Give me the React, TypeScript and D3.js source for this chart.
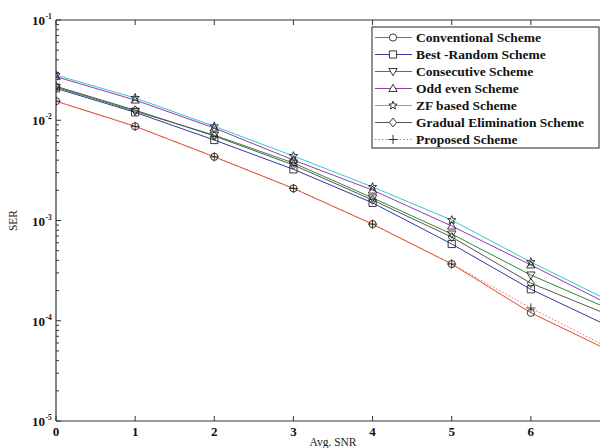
import React from "react";
import * as d3 from "d3";

const snr = [0, 1, 2, 3, 4, 5, 6, 7];
const conventional = [0.0155, 0.0087, 0.00432, 0.00209, 0.00092, 0.000368, 0.00012, 0.00005];
const bestRandom = [0.0208, 0.012, 0.00635, 0.00324, 0.0015, 0.000583, 0.000206, 0.000087];
const consecutive = [0.0214, 0.0123, 0.0071, 0.00375, 0.00168, 0.000733, 0.000286, 0.00013];
const oddEven = [0.0272, 0.0159, 0.00837, 0.00401, 0.00201, 0.000881, 0.00036, 0.000144];
const zfBased = [0.0282, 0.0167, 0.0087, 0.0044, 0.00216, 0.00101, 0.000385, 0.000157];
const gradual = [0.0218, 0.0126, 0.00697, 0.00358, 0.0016, 0.000684, 0.000237, 0.000113];
const proposed = [0.0155, 0.0087, 0.00432, 0.00209, 0.00092, 0.000368, 0.000134, 0.000053];

const seriesNames = [
  "Conventional Scheme",
  "Best -Random Scheme",
  "Consecutive Scheme",
  "Odd even Scheme",
  "ZF based Scheme",
  "Gradual Elimination Scheme",
  "Proposed Scheme",
];
const seriesValues = [conventional, bestRandom, consecutive, oddEven, zfBased, gradual, proposed];
const seriesColors = ["#e04a2a", "#3535a5", "#2f8a3a", "#9a3aa8", "#35c8d0", "#555555", "#e06a50"];
const seriesMarkers = ["circle", "square", "tridown", "triup", "star", "diamond", "plus"];
const seriesDash = ["", "", "", "", "", "", "1.5,2"];

const yMajor = [1e-1, 1e-2, 1e-3, 1e-4, 1e-5];
const yExp = ["-1", "-2", "-3", "-4", "-5"];
const xTicks = [0, 1, 2, 3, 4, 5, 6, 7];

const W = 600;
const H = 448;
const L = 56;
const R = 610;
const T = 20;
const B = 421;

function markerPath(shape: string, cx: number, cy: number): string {
  const s = 3.6;
  switch (shape) {
    case "circle":
      return `M${cx - s},${cy}a${s},${s} 0 1,0 ${2 * s},0a${s},${s} 0 1,0 ${-2 * s},0Z`;
    case "square":
      return `M${cx - s},${cy - s}h${2 * s}v${2 * s}h${-2 * s}Z`;
    case "triup":
      return `M${cx},${cy - s - 0.6}L${cx + s + 0.6},${cy + s - 0.6}L${cx - s - 0.6},${cy + s - 0.6}Z`;
    case "tridown":
      return `M${cx},${cy + s + 0.6}L${cx + s + 0.6},${cy - s + 0.6}L${cx - s - 0.6},${cy - s + 0.6}Z`;
    case "diamond":
      return `M${cx},${cy - s - 0.8}L${cx + s},${cy}L${cx},${cy + s + 0.8}L${cx - s},${cy}Z`;
    case "plus":
      return `M${cx - s - 1},${cy}H${cx + s + 1}M${cx},${cy - s - 1}V${cy + s + 1}`;
    case "star": {
      const pts: string[] = [];
      for (let i = 0; i < 10; i++) {
        const r = i % 2 === 0 ? s + 0.8 : (s + 0.8) * 0.42;
        const a = -Math.PI / 2 + (i * Math.PI) / 5;
        pts.push(`${cx + r * Math.cos(a)},${cy + r * Math.sin(a)}`);
      }
      return `M${pts.join("L")}Z`;
    }
  }
  return "";
}

export default function App() {
  const x = d3.scaleLinear().domain([0, 7]).range([L, R]);
  const y = d3.scaleLog().domain([1e-5, 1e-1]).range([B, T]);
  const line = d3
    .line<number>()
    .x((_, i) => x(snr[i]))
    .y((d) => y(d));

  const minor: number[] = [];
  for (let e = -5; e < -1; e++) {
    for (let m = 2; m <= 9; m++) minor.push(m * Math.pow(10, e));
  }

  const font = "'Liberation Serif', 'Times New Roman', serif";
  const legX = 372;
  const legY = 27;
  const legStep = 17;

  return (
    <svg
      width={W}
      height={H}
      style={{ position: "absolute", left: 0, top: 0, background: "#fff" }}
    >
      <defs>
        <clipPath id="plotclip">
          <rect x={L} y={T} width={R - L} height={B - T} />
        </clipPath>
      </defs>
      <rect x={0} y={0} width={W} height={H} fill="#fff" />

      {/* data */}
      <g clipPath="url(#plotclip)">
        {seriesValues.map((vals, si) => (
          <path
            key={"l" + si}
            d={line(vals) || ""}
            fill="none"
            stroke={seriesColors[si]}
            strokeWidth={1}
            strokeDasharray={seriesDash[si] || undefined}
          />
        ))}
        {seriesValues.map((vals, si) =>
          vals.map((v, i) => (
            <path
              key={"m" + si + "-" + i}
              d={markerPath(seriesMarkers[si], x(snr[i]), y(v))}
              fill="none"
              stroke="#222"
              strokeWidth={0.9}
            />
          ))
        )}
      </g>

      {/* axes frame */}
      <line x1={L} y1={T} x2={W} y2={T} stroke="#333" strokeWidth={1} />
      <line x1={L} y1={B} x2={W} y2={B} stroke="#333" strokeWidth={1.2} />
      <line x1={L} y1={T} x2={L} y2={B} stroke="#333" strokeWidth={1.2} />

      {/* x ticks */}
      {xTicks.map((t) => (
        <g key={"xt" + t}>
          <line x1={x(t)} y1={B} x2={x(t)} y2={B - 5} stroke="#333" />
          <line x1={x(t)} y1={T} x2={x(t)} y2={T + 5} stroke="#333" />
          {x(t) < W - 6 && (
            <text
              x={x(t)}
              y={B + 15}
              textAnchor="middle"
              fontFamily={font}
              fontWeight="bold"
              fontSize={13}
              fill="#111"
            >
              {t}
            </text>
          )}
        </g>
      ))}

      {/* y ticks */}
      {yMajor.map((v, i) => (
        <g key={"yt" + i}>
          <line x1={L} y1={y(v)} x2={L + 5} y2={y(v)} stroke="#333" />
          <text
            x={L - 11}
            y={y(v) + 5}
            textAnchor="end"
            fontFamily={font}
            fontWeight="bold"
            fontSize={13}
            fill="#111"
          >
            10
          </text>
          <text
            x={L - 10.5}
            y={y(v) - 1}
            textAnchor="start"
            fontFamily={font}
            fontWeight="bold"
            fontSize={7.5}
            fill="#111"
          >
            {yExp[i]}
          </text>
        </g>
      ))}
      {minor.map((v, i) => (
        <line key={"ym" + i} x1={L} y1={y(v)} x2={L + 3} y2={y(v)} stroke="#333" />
      ))}

      {/* axis labels */}
      <text
        x={(L + R) / 2}
        y={446}
        textAnchor="middle"
        fontFamily={font}
        fontSize={11.5}
        fill="#222"
      >
        Avg. SNR
      </text>
      <text
        transform={`translate(17,${(T + B) / 2}) rotate(-90)`}
        textAnchor="middle"
        fontFamily={font}
        fontSize={11.5}
        fill="#222"
      >
        SER
      </text>

      {/* legend */}
      <rect
        x={legX}
        y={legY}
        width={227}
        height={121}
        fill="#fff"
        stroke="#222"
        strokeWidth={1}
      />
      {seriesNames.map((name, si) => {
        const cy = legY + 10.5 + si * legStep;
        return (
          <g key={"lg" + si}>
            <line
              x1={legX + 3}
              y1={cy}
              x2={legX + 40}
              y2={cy}
              stroke={seriesColors[si]}
              strokeWidth={1}
              strokeDasharray={seriesDash[si] || undefined}
            />
            <path
              d={markerPath(seriesMarkers[si], legX + 21, cy)}
              fill="#fff"
              stroke="#222"
              strokeWidth={0.9}
            />
            <text
              x={legX + 44}
              y={cy + 4.5}
              fontFamily={font}
              fontWeight="bold"
              fontSize={13.5}
              fill="#111"
            >
              {name}
            </text>
          </g>
        );
      })}
    </svg>
  );
}
